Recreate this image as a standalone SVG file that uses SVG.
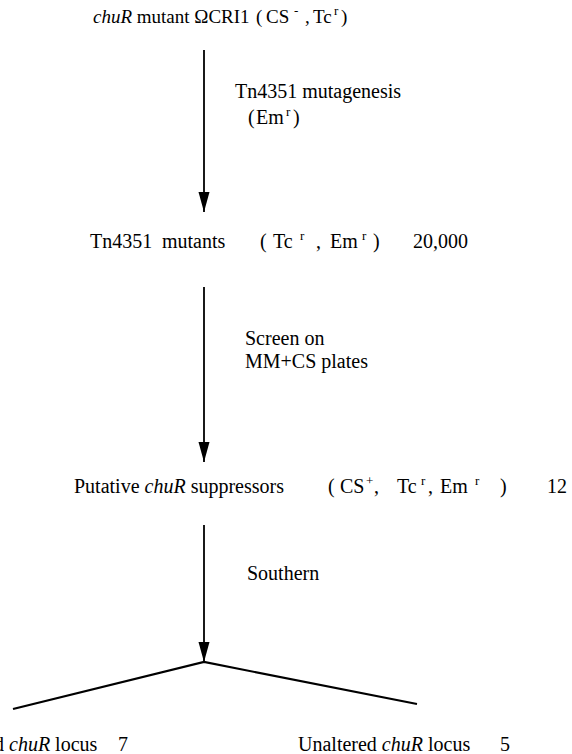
<svg xmlns="http://www.w3.org/2000/svg" width="572" height="754" viewBox="0 0 572 754">
<style>
text{font-family:"Liberation Serif","Times New Roman",serif;font-size:20px;fill:#000}
.t{font-size:19px}
.i{font-style:italic}
.s{font-size:13px}
.ln{stroke:#000;stroke-width:1.8;fill:none}
.br{stroke:#000;stroke-width:2.2;fill:none}
</style>
<defs>
<marker id="ah" viewBox="0 0 20 12" refX="20" refY="6" markerWidth="20" markerHeight="12" markerUnits="userSpaceOnUse" orient="auto">
<path d="M0,0.5 L20,6 L0,11.5 Z" fill="#000"/>
</marker>
</defs>
<rect width="572" height="754" fill="#fff"/>
<g id="connectors">
<line class="ln" x1="204" y1="50" x2="204" y2="212" marker-end="url(#ah)"/>
<line class="ln" x1="204" y1="287" x2="204" y2="462" marker-end="url(#ah)"/>
<line class="ln" x1="204" y1="525" x2="204" y2="662" marker-end="url(#ah)"/>
<polyline class="br" points="13,709 204,662 417,704"/>
</g>
<g id="n1">
<text class="t" x="93" y="23"><tspan class="i">chuR</tspan> mutant ΩCRI1</text>
<text class="t" x="256" y="23">(</text><text class="t" x="266" y="23">CS</text><text x="294" y="15" class="s">-</text><text class="t" x="305" y="23">,</text><text class="t" x="313" y="23">Tc</text><text x="334" y="15" class="s">r</text><text class="t" x="341" y="23">)</text>
</g>
<g id="e1">
<text x="235" y="98">Tn4351 mutagenesis</text>
<text x="248" y="124">(</text><text x="256" y="124">Em</text><text x="286" y="116" class="s">r</text><text x="293" y="124">)</text>
</g>
<g id="n2">
<text x="90" y="248">Tn4351</text><text x="162" y="248">mutants</text>
<text x="260" y="248">(</text><text x="273" y="248">Tc</text><text x="300" y="240" class="s">r</text><text x="316" y="248">,</text><text x="330" y="248">Em</text><text x="362" y="240" class="s">r</text><text x="373" y="248">)</text>
<text x="413" y="248">20,000</text>
</g>
<g id="e2">
<text x="245" y="345">Screen on</text>
<text x="245" y="368">MM+CS plates</text>
</g>
<g id="n3">
<text x="74" y="493">Putative <tspan class="i">chuR</tspan> suppressors</text>
<text x="328" y="493">(</text><text x="340" y="493">CS</text><text x="366" y="485" class="s">+</text><text x="374" y="493">,</text><text x="397" y="493">Tc</text><text x="421" y="485" class="s">r</text><text x="428" y="493">,</text><text x="440" y="493">Em</text><text x="475" y="485" class="s">r</text><text x="500" y="493">)</text>
<text x="547" y="493">12</text>
</g>
<g id="e3">
<text x="247" y="580">Southern</text>
</g>
<g id="n4">
<text x="-6" y="751">d <tspan class="i">chuR</tspan> locus</text><text x="118" y="751">7</text>
</g>
<g id="n5">
<text x="298" y="751">Unaltered <tspan class="i">chuR</tspan> locus</text><text x="500" y="751">5</text>
</g>
</svg>
